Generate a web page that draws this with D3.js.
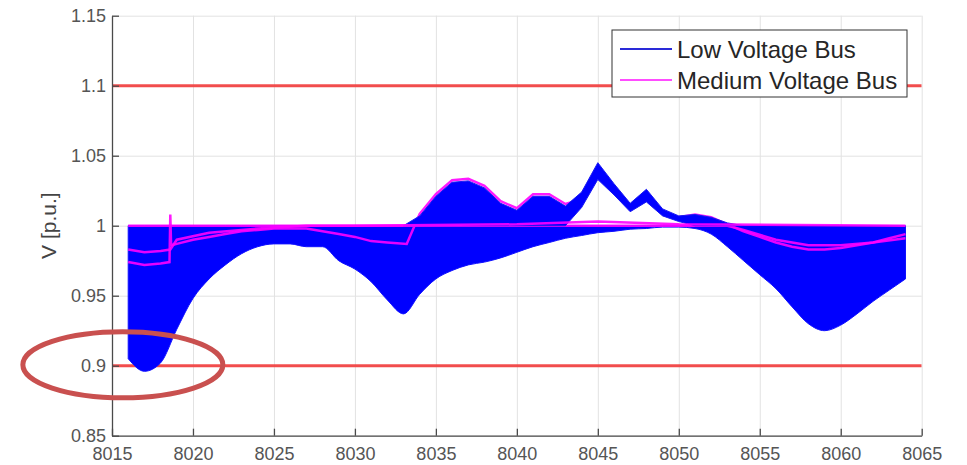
<!DOCTYPE html>
<html>
<head>
<meta charset="utf-8">
<script src="https://cdn.jsdelivr.net/npm/d3@7"></script>
<style>
  body { margin: 0; background: #fff; }
  svg { display: block; font-family: "Liberation Sans", Arial, sans-serif; }
  .grid line { stroke: #e2e2e2; stroke-width: 1; }
  .grid path { display: none; }
  .axis path, .axis line { stroke: #4a4a4a; stroke-width: 1.3; }
  .axis text { fill: #555; font-size: 18px; }
</style>
</head>
<body>
<script>
// x ticks and y ticks of the figure
var xTicks = [8015, 8020, 8025, 8030, 8035, 8040, 8045, 8050, 8055, 8060, 8065];
var yTicks = [0.85, 0.9, 0.95, 1, 1.05, 1.1, 1.15];
var yTickLabels = ['0.85', '0.9', '0.95', '1', '1.05', '1.1', '1.15'];

// voltage limits (red lines)
var limits = [0.9, 1.1];

// low voltage buses: hourly envelope of the bundle of curves
var hours = [8016, 8017, 8018, 8019, 8020, 8021, 8022, 8023, 8024, 8025,
             8026, 8027, 8028, 8029, 8030, 8031, 8032, 8033, 8034, 8035,
             8036, 8037, 8038, 8039, 8040, 8041, 8042, 8043, 8044, 8045,
             8046, 8047, 8048, 8049, 8050, 8051, 8052, 8053, 8054, 8055,
             8056, 8057, 8058, 8059, 8060, 8061, 8062, 8063, 8064];
var lvUpper = [1.0, 1.0, 1.0, 1.0, 1.0, 1.0, 1.0, 1.0, 1.0, 1.0,
               1.0, 1.0, 1.0, 1.0, 1.0, 1.0, 1.0, 1.0, 1.0, 1.0,
               1.0, 1.0, 1.0, 1.0, 1.0, 1.0, 1.0, 1.0, 1.0, 1.0,
               1.0, 1.0, 1.0, 1.0, 1.0, 1.0, 1.0, 1.0, 1.0, 1.0,
               1.0, 1.0, 1.0, 1.0, 1.0, 1.0, 1.0, 1.0, 1.0];
var lvLower = [0.905, 0.896, 0.902, 0.926, 0.948, 0.962, 0.972, 0.980, 0.985, 0.987,
               0.987, 0.985, 0.985, 0.975, 0.969, 0.960, 0.947, 0.937, 0.951, 0.962,
               0.968, 0.972, 0.974, 0.977, 0.981, 0.985, 0.988, 0.991, 0.993, 0.995,
               0.996, 0.9975, 0.998, 0.999, 0.999, 0.998, 0.994, 0.985, 0.975, 0.965,
               0.955, 0.942, 0.930, 0.925, 0.929, 0.937, 0.946, 0.954, 0.962];

// low voltage buses rising above 1 p.u. in the afternoon
var peakHours = [8033, 8034, 8035, 8036, 8037, 8038, 8039, 8040, 8041, 8042, 8043,
                 8044, 8045, 8046, 8047, 8048, 8049, 8050, 8051, 8052, 8053, 8054];
var peakTop =    [1.000, 1.007, 1.021, 1.031, 1.032, 1.027, 1.016, 1.011, 1.021, 1.021, 1.014,
                  1.024, 1.045, 1.030, 1.016, 1.026, 1.012, 1.007, 1.008, 1.006, 1.002, 1.000];
var peakBottom = [1.000, 1.000, 1.000, 1.000, 1.000, 1.000, 1.000, 1.000, 1.000, 1.000, 1.000,
                  1.013, 1.033, 1.022, 1.010, 1.017, 1.007, 1.003, 1.000, 1.000, 1.000, 1.000];

// medium voltage buses: [hour, voltage]
var mvFlat = [[8016, 1.0], [8030, 1.0], [8040, 1.001], [8045, 1.003], [8050, 1.001], [8064, 1.0]];
var mvDip = [[8016, 0.974], [8017, 0.972], [8018, 0.973], [8018.55, 0.974], [8018.6, 1.008],
             [8018.65, 0.986], [8019, 0.987], [8020, 0.990], [8021, 0.992], [8022, 0.994],
             [8023, 0.996], [8024, 0.997], [8025, 0.998], [8027, 0.998], [8028, 0.996],
             [8029, 0.994], [8030, 0.992], [8031, 0.989], [8032, 0.988], [8033.2, 0.987],
             [8034, 1.0085], [8035, 1.0225], [8036, 1.0325], [8037, 1.0335], [8038, 1.0285],
             [8039, 1.0175], [8040, 1.0125], [8041, 1.0225], [8042, 1.0225], [8043, 1.0155],
             [8044, 1.019], [8045, 1.039], [8046, 1.026], [8047, 1.013], [8048, 1.021],
             [8049, 1.009], [8050, 1.006], [8051, 1.008], [8052, 1.006], [8053, 1.001],
             [8054, 0.996], [8055, 0.992], [8056, 0.988], [8057, 0.985], [8058, 0.983],
             [8059, 0.983], [8060, 0.984], [8061, 0.986], [8062, 0.988], [8063, 0.991],
             [8064, 0.994]];
var mvLeft = [[8016, 0.983], [8017, 0.981], [8018, 0.982], [8018.6, 0.983], [8019, 0.990],
              [8021, 0.995], [8024, 0.998], [8027, 1.0], [8053, 1.0], [8054, 0.997],
              [8056, 0.990], [8058, 0.986], [8060, 0.986], [8062, 0.988], [8064, 0.991]];

var legendLabels = ['Low Voltage Bus', 'Medium Voltage Bus'];
var legendColors = ['#2a2ad8', '#ff4dff'];

var width = 967, height = 465;
var svg = d3.select('body').append('svg')
    .attr('width', width)
    .attr('height', height);

var x = d3.scaleLinear().domain([8015, 8065]).range([112, 921.7]);
var y = d3.scaleLinear().domain([0.85, 1.15]).range([435.7, 15.7]);

// grid
svg.append('g').attr('class', 'grid')
    .attr('transform', 'translate(0,' + y(0.85) + ')')
    .call(d3.axisBottom(x).tickValues(xTicks).tickSize(-(y(0.85) - y(1.15))).tickFormat(''));
svg.append('g').attr('class', 'grid')
    .attr('transform', 'translate(' + x(8015) + ',0)')
    .call(d3.axisLeft(y).tickValues(yTicks).tickSize(-(x(8065) - x(8015))).tickFormat(''));

svg.append('clipPath').attr('id', 'plot')
    .append('rect')
    .attr('x', x(8015)).attr('y', y(1.15))
    .attr('width', x(8065) - x(8015)).attr('height', y(0.85) - y(1.15));

var g = svg.append('g').attr('clip-path', 'url(#plot)');

// limit lines
g.selectAll('.limit')
    .data(limits)
    .enter().append('line')
    .attr('class', 'limit')
    .attr('x1', x(8015)).attr('x2', x(8065))
    .attr('y1', function (d) { return y(d); })
    .attr('y2', function (d) { return y(d); })
    .attr('stroke', '#f23b3b')
    .attr('stroke-opacity', 0.9)
    .attr('stroke-width', 3);

// low voltage bundle
var band = hours.map(function (h, i) {
    return {h: h, lo: lvLower[i], hi: lvUpper[i]};
});
g.append('path')
    .datum(band)
    .attr('fill', '#0000ff')
    .attr('stroke', '#1010ff')
    .attr('stroke-width', 1)
    .attr('d', d3.area()
        .x(function (d) { return x(d.h); })
        .y0(function (d) { return y(d.lo); })
        .y1(function (d) { return y(d.hi); })
        .curve(d3.curveMonotoneX));

// medium voltage buses
var mvLine = d3.line()
    .x(function (d) { return x(d[0]); })
    .y(function (d) { return y(d[1]); });

g.selectAll('.mv')
    .data([mvLeft, mvDip])
    .enter().append('path')
    .attr('class', 'mv')
    .attr('fill', 'none')
    .attr('stroke', '#ff00ff')
    .attr('stroke-width', 2.5)
    .attr('stroke-opacity', 0.9)
    .attr('d', mvLine);

var peak = peakHours.map(function (h, i) {
    return {h: h, lo: peakBottom[i], hi: peakTop[i]};
});
g.append('path')
    .datum(peak)
    .attr('fill', '#0000ff')
    .attr('stroke', '#1a1af2')
    .attr('stroke-width', 1)
    .attr('stroke-linejoin', 'round')
    .attr('d', d3.area()
        .x(function (d) { return x(d.h); })
        .y0(function (d) { return y(d.lo); })
        .y1(function (d) { return y(d.hi); }));

g.append('path')
    .datum(mvFlat)
    .attr('fill', 'none')
    .attr('stroke', '#ff00ff')
    .attr('stroke-width', 2.5)
    .attr('stroke-opacity', 0.9)
    .attr('d', mvLine);

// axes, ticks pointing inward
svg.append('g').attr('class', 'axis')
    .attr('transform', 'translate(0,' + y(0.85) + ')')
    .call(d3.axisBottom(x).tickValues(xTicks).tickSizeInner(-7).tickSizeOuter(0)
        .tickPadding(12).tickFormat(d3.format('d')));
svg.append('g').attr('class', 'axis')
    .attr('transform', 'translate(' + x(8015) + ',0)')
    .call(d3.axisLeft(y).tickValues(yTicks).tickSizeInner(-7).tickSizeOuter(0)
        .tickPadding(6).tickFormat(function (d, i) { return yTickLabels[i]; }));

svg.append('text')
    .attr('transform', 'translate(49,' + y(1) + ') rotate(-90)')
    .attr('text-anchor', 'middle')
    .attr('dy', '0.35em')
    .attr('fill', '#444')
    .style('font-size', '21px')
    .text('V [p.u.]');

// legend
var legend = svg.append('g').attr('transform', 'translate(612,30)');
legend.append('rect')
    .attr('width', 295).attr('height', 67)
    .attr('fill', '#fff')
    .attr('stroke', '#333')
    .attr('stroke-width', 1);
var item = legend.selectAll('.item')
    .data(legendLabels)
    .enter().append('g')
    .attr('class', 'item')
    .attr('transform', function (d, i) { return 'translate(0,' + (19 + i * 31) + ')'; });
item.append('line')
    .attr('x1', 8).attr('x2', 60)
    .attr('stroke', function (d, i) { return legendColors[i]; })
    .attr('stroke-width', 2);
item.append('text')
    .attr('x', 65)
    .attr('dy', '0.36em')
    .attr('fill', '#262626')
    .style('font-size', '24px')
    .text(function (d) { return d; });

// annotation around the undervoltage
svg.append('ellipse')
    .attr('cx', x(8015.67)).attr('cy', y(0.9007))
    .attr('rx', 100).attr('ry', 33)
    .attr('fill', 'none')
    .attr('stroke', '#c9504f')
    .attr('stroke-width', 5);
</script>
</body>
</html>
